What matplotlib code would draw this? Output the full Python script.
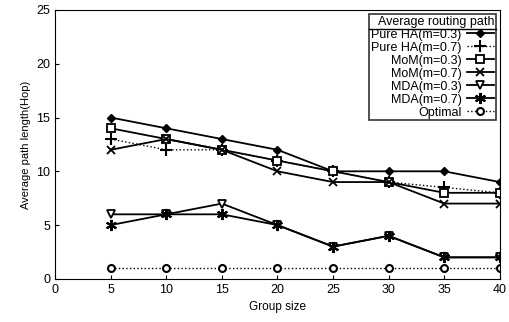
import numpy as np
import matplotlib.pyplot as plt
from matplotlib.lines import Line2D

plt.rcParams['font.family'] = ['Liberation Sans', 'DejaVu Sans']

group = [5, 10, 15, 20, 25, 30, 35, 40]
pure_ha_03 = [15, 14, 13, 12, 10, 10, 10, 9]
pure_ha_07 = [13, 12, 12, 11, 10, 9, 8.5, 8]
mom_03 = [14, 13, 12, 11, 10, 9, 8, 8]
mom_07 = [12, 13, 12, 10, 9, 9, 7, 7]
mda_03 = [6, 6, 7, 5, 3, 4, 2, 2]
mda_07 = [5, 6, 6, 5, 3, 4, 2, 2]
optimal = [1, 1, 1, 1, 1, 1, 1, 1]

fig = plt.figure(figsize=(5.1, 3.22), dpi=100)
ax = fig.add_axes([0.108, 0.134, 0.872, 0.835])

kw = dict(color='black', lw=1.3, ms=6, mew=1.3)
ax.plot(group, pure_ha_03, marker='D', ms=4.5, label='Pure HA(m=0.3)', color='black', lw=1.3)
ax.plot(group, pure_ha_07, marker='+', ls=':', label='Pure HA(m=0.7)', color='black', lw=1.0, ms=8, mew=1.5)
ax.plot(group, mom_03, marker='s', mfc='white', label='MoM(m=0.3)', **kw)
ax.plot(group, mom_07, marker='x', label='MoM(m=0.7)', **kw)
ax.plot(group, mda_03, marker='v', mfc='white', label='MDA(m=0.3)', **kw)
ax.plot(group, mda_07, marker=(6, 2, 0), label='MDA(m=0.7)', color='black', lw=1.3, ms=8, mew=1.5)
ax.plot(group, optimal, marker='o', ls=':', mfc='white', label='Optimal', color='black', lw=1.0, ms=5, mew=1.5)

ax.set_xlim(0, 40)
ax.set_ylim(0, 25)
ax.set_xticks(range(0, 41, 5))
ax.set_yticks(range(0, 26, 5))
ax.tick_params(labelsize=9, direction='in', length=3)
ax.set_xlabel('Group size', fontsize=8.5)
ax.set_ylabel('Average path length(Hop)', fontsize=8)

leg = ax.legend(title='Average routing path', loc='upper right', markerfirst=False,
                fontsize=9, title_fontsize=9, frameon=True, fancybox=False,
                edgecolor='black', borderpad=0.15, labelspacing=0.08,
                handlelength=2.2, handletextpad=0.4, borderaxespad=0.3)
leg.get_frame().set_linewidth(1.2)
leg._legend_box.align = 'right'

# underline under the legend title
fig.canvas.draw()
fb = leg.get_frame().get_window_extent()
tb = leg.get_title().get_window_extent()
inv = fig.transFigure.inverted()
(x0, y0), (x1, _) = inv.transform([(fb.x0, tb.y0 - 1), (fb.x1, tb.y0 - 1)])
fig.add_artist(Line2D([x0, x1], [y0, y0], color='black', lw=1.0))

fig.savefig('out.png', dpi=100)
